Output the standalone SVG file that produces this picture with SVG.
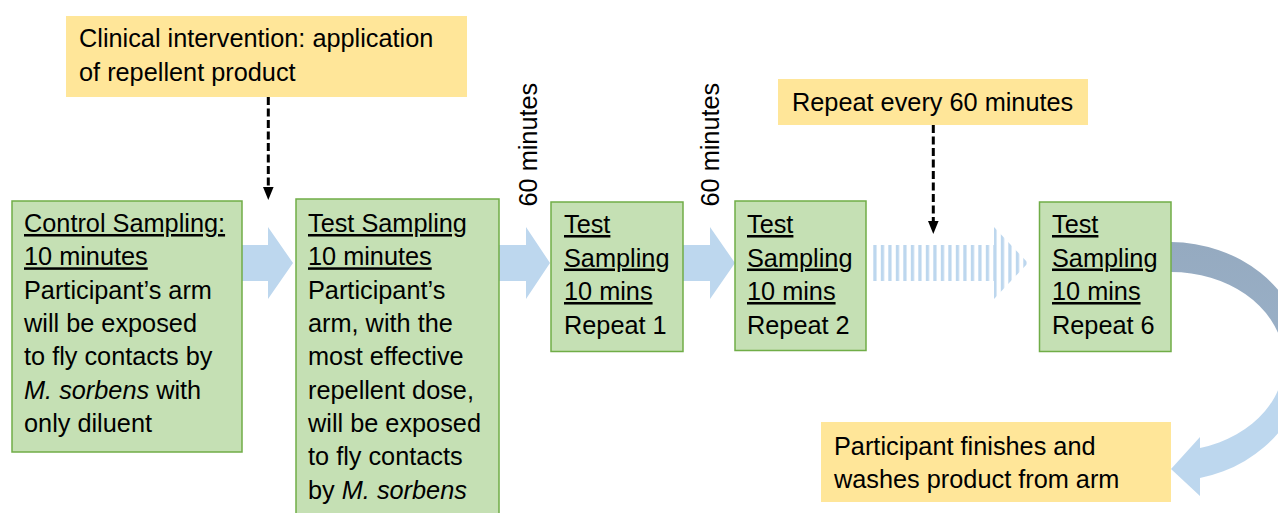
<svg xmlns="http://www.w3.org/2000/svg" width="1278" height="513" viewBox="0 0 1278 513">
<style>
.box{fill:#C5E0B4;stroke:#70AD47;stroke-width:1.5}
.note{fill:#FFE699}
.t{font-family:"Liberation Sans",Arial,sans-serif;font-size:25.3px;fill:#000}
.u{text-decoration:underline}
.i{font-style:italic}
.blk{fill:#BDD7EE}
.dash{stroke:#000;stroke-width:3;stroke-dasharray:8 3.5;fill:none}
</style>
<defs>
<pattern id="stripes" x="873.3" y="0" width="7.5" height="10" patternUnits="userSpaceOnUse">
<rect x="0" y="0" width="3.3" height="10" fill="#BDD7EE"/>
</pattern>
<linearGradient id="curveGrad" x1="0" y1="242" x2="0" y2="496" gradientUnits="userSpaceOnUse">
<stop offset="0" stop-color="#95AAC0"/>
<stop offset="0.36" stop-color="#99AFC6"/>
<stop offset="0.6" stop-color="#BDD7EE"/>
<stop offset="1" stop-color="#BDD7EE"/>
</linearGradient>
</defs>

<g id="connectors">
<polygon class="blk" points="242,245 268,245 268,227 293,263 268,299 268,281 242,281"/>
<polygon class="blk" points="499,245 526,245 526,227 550,263 526,299 526,281 499,281"/>
<polygon class="blk" points="683,245 710,245 710,227 735,263 710,299 710,281 683,281"/>
<polygon fill="url(#stripes)" points="873,245 994,245 994,227 1028,263 994,299 994,281 873,281"/>
<path fill="url(#curveGrad)" d="M1171 242 A135 119.5 0 0 1 1200 478 L1200 496 L1171 469 L1200 437 L1200 448 A113 89.5 0 0 0 1171 272 Z"/>
<line class="dash" x1="268.3" y1="97" x2="268.3" y2="188"/>
<polygon points="263,187 273.6,187 268.3,200" fill="#000"/>
<line class="dash" x1="933.3" y1="125" x2="933.3" y2="222"/>
<polygon points="928,221 938.6,221 933.3,234" fill="#000"/>
<text class="t" x="536.5" y="206.5" transform="rotate(-90 536.5 206.5)">60 minutes</text>
<text class="t" x="719.3" y="206.5" transform="rotate(-90 719.3 206.5)">60 minutes</text>
</g>

<g id="note-intervention">
<rect class="note" x="66" y="16" width="401" height="81"/>
<text class="t" x="79" y="47">Clinical intervention: application</text>
<text class="t" x="79" y="80.5">of repellent product</text>
</g>

<g id="note-repeat">
<rect class="note" x="778" y="79" width="310" height="46"/>
<text class="t" x="792" y="111">Repeat every 60 minutes</text>
</g>

<g id="control-sampling">
<rect class="box" x="12" y="201" width="230" height="251"/>
<text class="t u" x="24" y="232">Control Sampling:</text>
<text class="t u" x="24" y="265.3">10 minutes</text>
<text class="t" x="24" y="298.6">Participant’s arm</text>
<text class="t" x="24" y="332">will be exposed</text>
<text class="t" x="24" y="365.3">to fly contacts by</text>
<text class="t" x="24" y="398.6"><tspan class="i">M. sorbens</tspan> with</text>
<text class="t" x="24" y="432">only diluent</text>
</g>

<g id="test-sampling">
<rect class="box" x="296" y="199" width="203" height="330"/>
<text class="t u" x="308" y="232">Test Sampling</text>
<text class="t u" x="308" y="265.3">10 minutes</text>
<text class="t" x="308" y="298.6">Participant’s</text>
<text class="t" x="308" y="332">arm, with the</text>
<text class="t" x="308" y="365.3">most effective</text>
<text class="t" x="308" y="398.6">repellent dose,</text>
<text class="t" x="308" y="432">will be exposed</text>
<text class="t" x="308" y="465.3">to fly contacts</text>
<text class="t" x="308" y="498.6">by <tspan class="i">M. sorbens</tspan></text>
</g>

<g id="repeat-1">
<rect class="box" x="551" y="202" width="132" height="149.5"/>
<text class="t u" x="564" y="233">Test</text>
<text class="t u" x="564" y="266.5">Sampling</text>
<text class="t u" x="564" y="300">10 mins</text>
<text class="t" x="564" y="333.5">Repeat 1</text>
</g>

<g id="repeat-2">
<rect class="box" x="735" y="201" width="131" height="149.5"/>
<text class="t u" x="747" y="233">Test</text>
<text class="t u" x="747" y="266.5">Sampling</text>
<text class="t u" x="747" y="300">10 mins</text>
<text class="t" x="747" y="333.5">Repeat 2</text>
</g>

<g id="repeat-6">
<rect class="box" x="1039.5" y="202" width="131.5" height="149.5"/>
<text class="t u" x="1052" y="233">Test</text>
<text class="t u" x="1052" y="266.5">Sampling</text>
<text class="t u" x="1052" y="300">10 mins</text>
<text class="t" x="1052" y="333.5">Repeat 6</text>
</g>

<g id="note-finish">
<rect class="note" x="821" y="422" width="350" height="80"/>
<text class="t" x="834" y="455">Participant finishes and</text>
<text class="t" x="834" y="488">washes product from arm</text>
</g>
</svg>
